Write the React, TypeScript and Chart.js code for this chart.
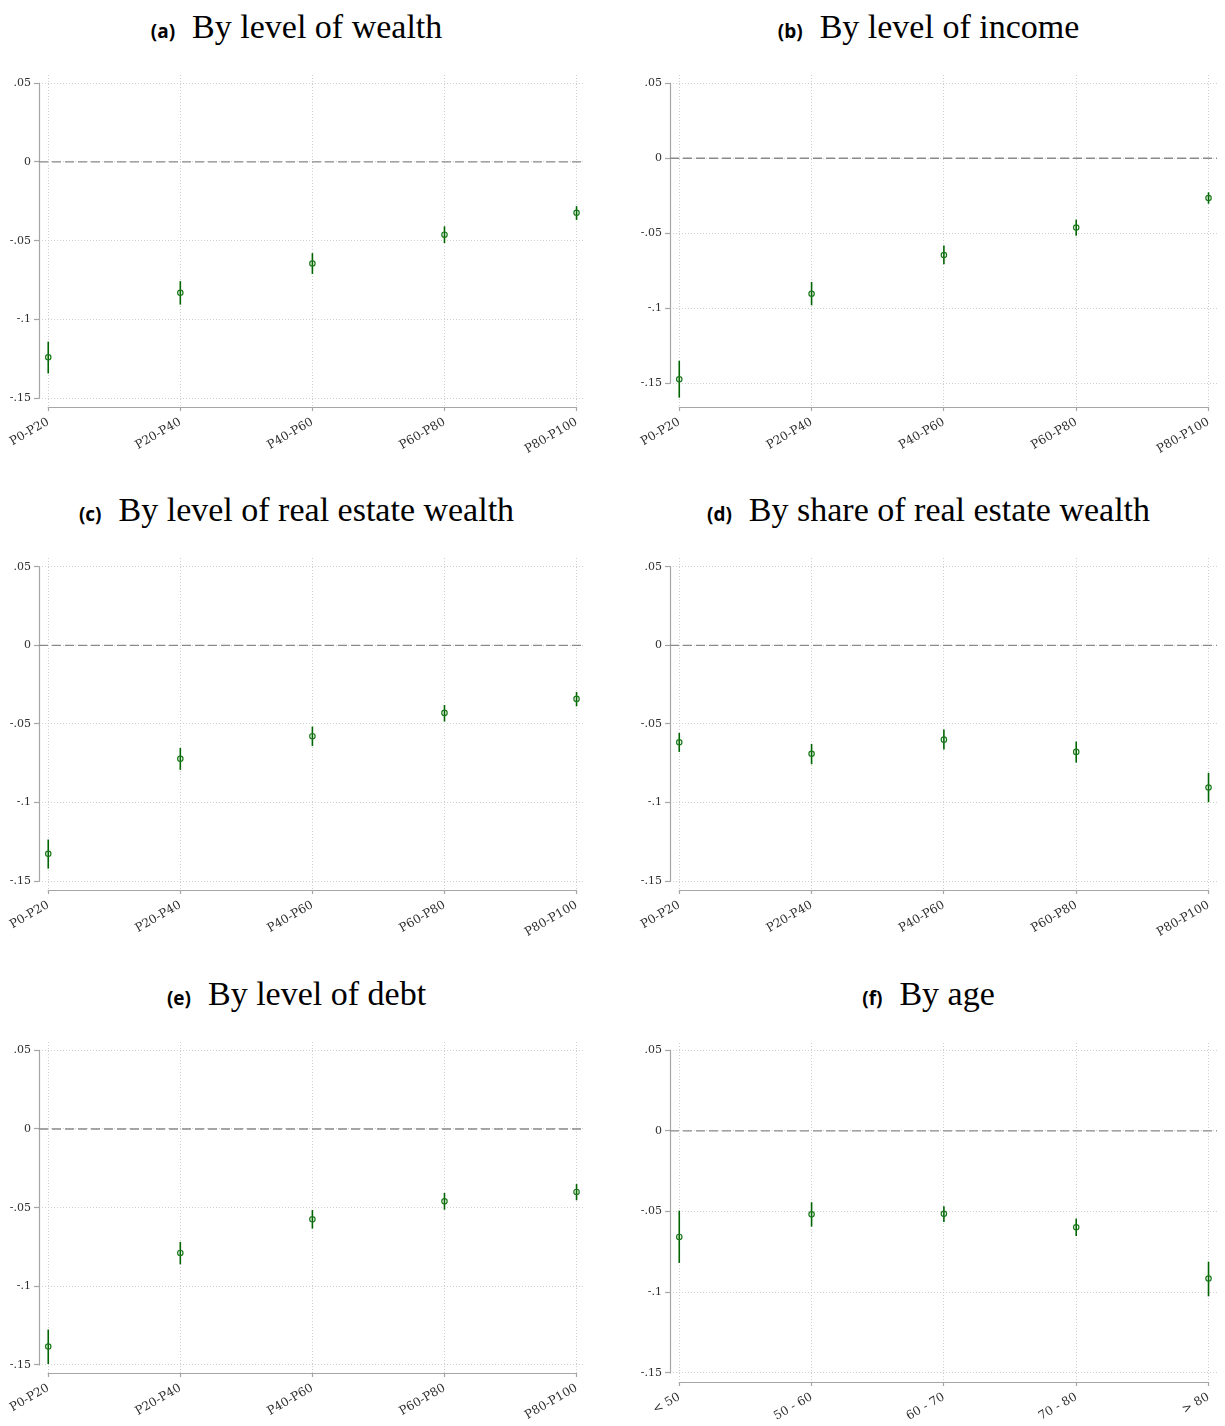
import React, { useEffect, useRef } from 'react';
import { Chart, registerables } from 'chart.js';

Chart.register(...registerables);

// ---------- data ----------
const percentileCategories = ['P0-P20', 'P20-P40', 'P40-P60', 'P60-P80', 'P80-P100'];
const ageCategories = ['< 50', '50 - 60', '60 - 70', '70 - 80', '> 80'];

const yTickValues = [-0.15, -0.1, -0.05, 0, 0.05];
const yTickLabels = ['-.15', '-.1', '-.05', '0', '.05'];

// (a) By level of wealth
const wealthEst = [-0.124, -0.0831, -0.0645, -0.0462, -0.0323];
const wealthLo = [-0.1343, -0.0906, -0.0711, -0.0515, -0.0368];
const wealthHi = [-0.1141, -0.0757, -0.0579, -0.0409, -0.0281];

// (b) By level of income
const incomeEst = [-0.1473, -0.0903, -0.0645, -0.0462, -0.0265];
const incomeLo = [-0.1596, -0.098, -0.0707, -0.0516, -0.0303];
const incomeHi = [-0.135, -0.0825, -0.0582, -0.0409, -0.0227];

// (c) By level of real estate wealth
const realEstateEst = [-0.1326, -0.0722, -0.0578, -0.043, -0.0341];
const realEstateLo = [-0.142, -0.0792, -0.064, -0.0485, -0.0388];
const realEstateHi = [-0.1235, -0.0653, -0.0517, -0.038, -0.0297];

// (d) By share of real estate wealth
const shareEst = [-0.0617, -0.069, -0.06, -0.0678, -0.0905];
const shareLo = [-0.0678, -0.0756, -0.0663, -0.0746, -0.0998];
const shareHi = [-0.0557, -0.0627, -0.0536, -0.0612, -0.0811];

// (e) By level of debt
const debtEst = [-0.1383, -0.0788, -0.0574, -0.046, -0.04];
const debtLo = [-0.1494, -0.086, -0.0633, -0.0513, -0.0453];
const debtHi = [-0.1275, -0.0718, -0.0515, -0.0407, -0.035];

// (f) By age
const ageEst = [-0.0657, -0.0517, -0.0514, -0.0597, -0.0915];
const ageLo = [-0.0818, -0.0593, -0.0564, -0.0651, -0.1025];
const ageHi = [-0.0494, -0.0442, -0.0467, -0.0543, -0.081];

// ---------- styles ----------
const MARKER_GREEN = '#1a7a1a';
const BAR_GREEN = '#006400';
const AXIS_GRAY = '#a6a6a6';
const GRID_GRAY = '#cfcfcf';
const ZERO_GRAY = '#8a8a8a';
const TICK_TEXT = '#2e2e2e';

const X_MIN = -0.07;
const X_MAX = 4.064;
const Y_AXIS_W = 39;
const PAD_TOP = 10;
const X_AXIS_H = 50;

type PanelDef = {
  letter: string;
  title: string;
  categories: string[];
  est: number[];
  lo: number[];
  hi: number[];
  yMin: number;
  yMax: number;
  left: number;
  width: number;
  padL: number;
  padR: number;
  chartTop: number;
  chartBottom: number;
  titleCx: number;
  titleBaseline: number;
};

const stataAxes = {
  id: 'stataAxes',
  beforeDatasetsDraw(chart: any) {
    const { ctx, chartArea, scales } = chart;
    const x = scales.x;
    const y = scales.y;
    const n = chart.options.plugins.stataAxes.n as number;
    ctx.save();
    ctx.strokeStyle = AXIS_GRAY;
    ctx.lineWidth = 1.2;
    ctx.setLineDash([]);
    const ax = Math.round(chartArea.left) + 0.5;
    const yTop = y.getPixelForValue(Math.max(...yTickValues));
    const yBot = y.getPixelForValue(Math.min(...yTickValues));
    ctx.beginPath();
    ctx.moveTo(ax, yTop - 0.5);
    ctx.lineTo(ax, yBot + 0.5);
    ctx.stroke();
    const by = Math.round(chartArea.bottom) + 0.5;
    const xL = x.getPixelForValue(0);
    const xR = x.getPixelForValue(n - 1);
    ctx.beginPath();
    ctx.moveTo(xL - 0.5, by);
    ctx.lineTo(xR + 0.5, by);
    ctx.stroke();
    ctx.restore();
  },
};

function Panel({ p }: { p: PanelDef }) {
  const ref = useRef<HTMLCanvasElement | null>(null);
  const canvasTop = p.chartTop - PAD_TOP;
  const canvasH = p.chartBottom - p.chartTop + PAD_TOP + X_AXIS_H;

  useEffect(() => {
    if (!ref.current) return;
    const datasets: any[] = [];
    datasets.push({
      label: 'estimate',
      data: p.est.map((v, i) => ({ x: i, y: v })),
      showLine: false,
      pointRadius: 2.7,
      pointBorderWidth: 1.2,
      pointBorderColor: MARKER_GREEN,
      pointBackgroundColor: 'rgba(0,0,0,0)',
      order: 0,
    });
    p.lo.forEach((lo, i) => {
      datasets.push({
        label: 'ci' + i,
        data: [
          { x: i, y: lo },
          { x: i, y: p.hi[i] },
        ],
        showLine: true,
        borderColor: BAR_GREEN,
        borderWidth: 1.6,
        pointRadius: 0,
        order: 1,
      });
    });
    datasets.push({
      label: 'zero',
      data: [
        { x: X_MIN, y: 0 },
        { x: X_MAX, y: 0 },
      ],
      showLine: true,
      borderColor: ZERO_GRAY,
      borderWidth: 1.3,
      borderDash: [9, 4],
      pointRadius: 0,
      order: 2,
    });

    const chart = new Chart(ref.current, {
      type: 'scatter',
      data: { datasets },
      plugins: [stataAxes],
      options: {
        animation: false,
        responsive: false,
        devicePixelRatio: 1,
        events: [],
        layout: { padding: { left: p.padL, right: p.padR, top: PAD_TOP, bottom: 0 } },
        plugins: {
          legend: { display: false },
          tooltip: { enabled: false },
          stataAxes: { n: p.categories.length },
        } as any,
        scales: {
          x: {
            type: 'linear',
            min: X_MIN,
            max: X_MAX,
            afterBuildTicks: (s: any) => {
              s.ticks = p.categories.map((_, i) => ({ value: i }));
            },
            afterFit: (s: any) => {
              s.height = X_AXIS_H;
            },
            ticks: {
              autoSkip: false,
              minRotation: 30,
              maxRotation: 30,
              padding: 4,
              color: TICK_TEXT,
              font: { family: 'DejaVu Serif', size: 12 },
              callback: (v: any) => p.categories[Math.round(Number(v))] ?? '',
            },
            grid: {
              color: GRID_GRAY,
              lineWidth: 1,
              drawTicks: true,
              tickLength: 4,
              tickColor: AXIS_GRAY,
              tickWidth: 1.2,
              tickBorderDash: [],
            } as any,
            border: { display: false, dash: [1, 2] },
          },
          y: {
            type: 'linear',
            min: p.yMin,
            max: p.yMax,
            afterBuildTicks: (s: any) => {
              s.ticks = yTickValues.map((v) => ({ value: v }));
            },
            afterFit: (s: any) => {
              s.width = Y_AXIS_W;
            },
            ticks: {
              autoSkip: false,
              padding: 3,
              color: TICK_TEXT,
              font: { family: 'DejaVu Serif', size: 11 },
              callback: (v: any) => {
                const idx = yTickValues.findIndex((t) => Math.abs(t - Number(v)) < 1e-9);
                return idx >= 0 ? yTickLabels[idx] : '';
              },
            },
            grid: {
              color: GRID_GRAY,
              lineWidth: 1,
              drawTicks: true,
              tickLength: 5,
              tickColor: AXIS_GRAY,
              tickWidth: 1.2,
              tickBorderDash: [],
            } as any,
            border: { display: false, dash: [1, 2] },
          },
        },
      },
    } as any);
    return () => chart.destroy();
  }, [p]);

  return (
    <>
      <div
        style={{
          position: 'absolute',
          left: p.titleCx - 400,
          width: 800,
          top: p.titleBaseline - 32,
          textAlign: 'center',
          whiteSpace: 'nowrap',
          fontFamily: '"Liberation Serif", serif',
          fontSize: 34,
          lineHeight: '40px',
          color: '#000',
        }}
      >
        <span style={{ fontFamily: '"Open Sans", sans-serif', fontWeight: 700, fontSize: 19 }}>
          {'(' + p.letter + ')'}
        </span>
        <span style={{ marginLeft: 17 }}>{p.title}</span>
      </div>
      <canvas
        ref={ref}
        width={p.width}
        height={canvasH}
        style={{ position: 'absolute', left: p.left, top: canvasTop, width: p.width, height: canvasH }}
      />
    </>
  );
}

const LEFT_COL = { left: 0, width: 612, padL: 0, padR: 27, titleCx: 296.5 };
const RIGHT_COL = { left: 612, width: 613, padL: 19, padR: 8, titleCx: 928.5 };

const panels: PanelDef[] = [
  {
    letter: 'a', title: 'By level of wealth', categories: percentileCategories,
    est: wealthEst, lo: wealthLo, hi: wealthHi,
    yMin: -0.1556, yMax: 0.0552, chartTop: 75, chartBottom: 407, titleBaseline: 38.5, ...LEFT_COL,
  },
  {
    letter: 'b', title: 'By level of income', categories: percentileCategories,
    est: incomeEst, lo: incomeLo, hi: incomeHi,
    yMin: -0.1658, yMax: 0.0555, chartTop: 75, chartBottom: 407, titleBaseline: 38.5, ...RIGHT_COL,
  },
  {
    letter: 'c', title: 'By level of real estate wealth', categories: percentileCategories,
    est: realEstateEst, lo: realEstateLo, hi: realEstateHi,
    yMin: -0.1556, yMax: 0.0555, chartTop: 558, chartBottom: 890, titleBaseline: 522, ...LEFT_COL,
  },
  {
    letter: 'd', title: 'By share of real estate wealth', categories: percentileCategories,
    est: shareEst, lo: shareLo, hi: shareHi,
    yMin: -0.1556, yMax: 0.0555, chartTop: 558, chartBottom: 890, titleBaseline: 522, ...RIGHT_COL,
  },
  {
    letter: 'e', title: 'By level of debt', categories: percentileCategories,
    est: debtEst, lo: debtLo, hi: debtHi,
    yMin: -0.1551, yMax: 0.0553, chartTop: 1042, chartBottom: 1373, titleBaseline: 1005.5, ...LEFT_COL,
  },
  {
    letter: 'f', title: 'By age', categories: ageCategories,
    est: ageEst, lo: ageLo, hi: ageHi,
    yMin: -0.1556, yMax: 0.0545, chartTop: 1043, chartBottom: 1382, titleBaseline: 1005.5, ...RIGHT_COL,
  },
];

export default function App() {
  return (
    <div
      style={{
        position: 'fixed',
        left: 0,
        top: 0,
        width: 1225,
        height: 1426,
        overflow: 'hidden',
        background: '#ffffff',
      }}
    >
      {panels.map((p) => (
        <Panel key={p.letter} p={p} />
      ))}
    </div>
  );
}
